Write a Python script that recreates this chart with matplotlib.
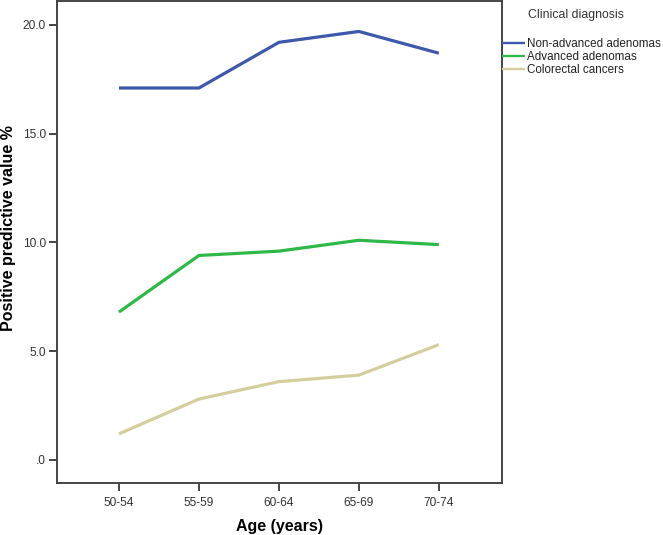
import matplotlib
matplotlib.use("Agg")
import matplotlib.pyplot as plt

plt.rcParams['font.family'] = ['Liberation Sans', 'DejaVu Sans']

age_groups = ["50-54", "55-59", "60-64", "65-69", "70-74"]
non_advanced = [17.1, 17.1, 19.2, 19.7, 18.7]
advanced = [6.8, 9.4, 9.6, 10.1, 9.9]
crc = [1.2, 2.8, 3.6, 3.9, 5.3]
series_names = ["Non-advanced adenomas", "Advanced adenomas", "Colorectal cancers"]
colors = ["#3E58AC", "#2EB848", "#D4CE9E"]
yticks = [0, 5, 10, 15, 20]
ytick_labels = [".0", "5.0", "10.0", "15.0", "20.0"]

fig = plt.figure(figsize=(6.63, 5.35), dpi=100)
ax = fig.add_axes([57/663, 1 - 483/535, (502 - 57)/663, (483 - 1)/535])

x = list(range(len(age_groups)))
for vals, c, name in zip([non_advanced, advanced, crc], colors, series_names):
    ax.plot(x, vals, color=c, lw=2.3, solid_capstyle='butt', label=name)

ax.set_xlim(-0.775, 4.79)
ax.set_ylim(-1.06, 21.1)
ax.set_xticks(x)
ax.set_xticklabels(age_groups)
ax.set_yticks(yticks)
ax.set_yticklabels(ytick_labels)
for s in ax.spines.values():
    s.set_color("#444444")
    s.set_linewidth(1.4)
ax.tick_params(direction='out', length=6, width=1.4, color="#444444",
               labelsize=8.6, labelcolor="#333333", pad=2)
ax.tick_params(axis='x', pad=4)
ax.set_xlabel("Age (years)", fontsize=11.5, fontweight='bold', labelpad=7)
fig.text(8.5/663, 1 - 228/535, "Positive predictive value %", rotation=90,
         fontsize=11.5, fontweight='bold', ha='center', va='center')

fig.text(528/663, 1 - 15/535, "Clinical diagnosis", fontsize=8.8, color="#333333",
         ha='left', va='center')
leg_handles = [plt.Line2D([], [], color=c, lw=1.7, solid_capstyle='butt') for c in colors]
leg = fig.legend(leg_handles, series_names, loc='upper left',
                 bbox_to_anchor=(502/663, 1 - 38/535), frameon=False,
                 fontsize=8.4, handlelength=1.95, handletextpad=0.17,
                 labelspacing=0.08, borderpad=0, borderaxespad=0)
for t in leg.get_texts():
    t.set_color("#222222")

fig.savefig("out.png", dpi=100)
